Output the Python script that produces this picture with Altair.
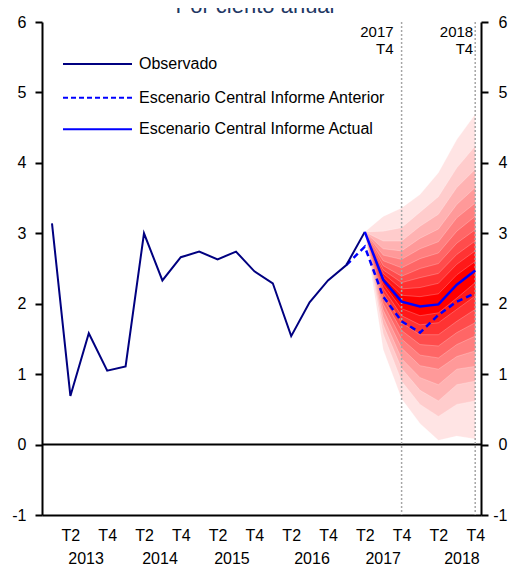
import altair as alt
import pandas as pd

# ---------------- data ----------------
# quarter index: 0 = 2013 T1 ... 23 = 2018 T4
obs_q = list(range(18))
observado = [3.14, 0.69, 1.58, 1.05, 1.11, 3.00, 2.33, 2.66, 2.74, 2.63,
             2.74, 2.46, 2.29, 1.54, 2.02, 2.33, 2.55, 3.02]

ant_q = [16, 17, 18, 19, 20, 21, 22, 23]
anterior = [2.55, 2.81, 2.10, 1.75, 1.59, 1.84, 2.03, 2.15]

act_q = [17, 18, 19, 20, 21, 22, 23]
actual = [3.02, 2.34, 2.03, 1.96, 1.99, 2.27, 2.47]

fan_q = [17, 18, 19, 20, 21, 22, 23]
# band limits, level 1 = innermost ... level 10 = outermost
fan_upper = [
    [3.02, 2.38, 2.12, 2.10, 2.14, 2.41, 2.60],
    [3.02, 2.43, 2.21, 2.23, 2.29, 2.56, 2.75],
    [3.02, 2.48, 2.30, 2.37, 2.43, 2.70, 2.89],
    [3.02, 2.54, 2.39, 2.50, 2.57, 2.86, 3.05],
    [3.02, 2.61, 2.51, 2.64, 2.72, 3.03, 3.24],
    [3.02, 2.69, 2.63, 2.78, 2.88, 3.22, 3.43],
    [3.02, 2.78, 2.75, 2.93, 3.06, 3.41, 3.65],
    [3.02, 2.89, 2.89, 3.10, 3.27, 3.65, 3.91],
    [3.02, 3.03, 3.08, 3.30, 3.52, 3.93, 4.24],
    [3.02, 3.24, 3.36, 3.55, 3.86, 4.33, 4.69],
]
fan_lower = [
    [3.02, 2.28, 1.93, 1.83, 1.87, 2.08, 2.30],
    [3.02, 2.22, 1.83, 1.70, 1.73, 1.92, 2.11],
    [3.02, 2.15, 1.73, 1.56, 1.56, 1.75, 1.92],
    [3.02, 2.08, 1.62, 1.42, 1.40, 1.59, 1.73],
    [3.02, 2.00, 1.50, 1.27, 1.23, 1.42, 1.54],
    [3.02, 1.91, 1.37, 1.12, 1.07, 1.25, 1.33],
    [3.02, 1.81, 1.22, 0.95, 0.85, 1.07, 1.11],
    [3.02, 1.70, 1.08, 0.77, 0.62, 0.85, 0.90],
    [3.02, 1.57, 0.90, 0.57, 0.40, 0.57, 0.62],
    [3.02, 1.35, 0.65, 0.30, 0.06, 0.12, 0.08],
]
fan_colors = ["#FF0000", "#FF1919", "#FF3333", "#FF4C4C", "#FF6666",
              "#FF7F7F", "#FF9999", "#FFB2B2", "#FFCCCC", "#FFE4E4"]

x_tick_q = [1, 3, 5, 7, 9, 11, 13, 15, 17, 19, 21, 23]
x_tick_labels = ["T2", "T4", "T2", "T4", "T2", "T4", "T2", "T4", "T2", "T4", "T2", "T4"]
year_labels = ["2013", "2014", "2015", "2016", "2017", "2018"]
year_pos = [1.85, 5.87, 9.78, 14.13, 18.0, 22.28]
y_ticks = [-1, 0, 1, 2, 3, 4, 5, 6]

vline_q = [19, 23]
vline_labels = ["2017\nT4", "2018\nT4"]

legend_labels = ["Observado", "Escenario Central Informe Anterior",
                 "Escenario Central Informe Actual"]

FONT = "Liberation Sans"
NAVY = "#000080"
BLUE = "#0000FF"

xscale = alt.Scale(domain=[-0.543, 23.315], nice=False, zero=False)
yscale = alt.Scale(domain=[-1, 6], nice=False, zero=False)
Y_LABEL_EXPR = "datum.value < 0 ? '-' + (-datum.value) : '' + datum.value"


def X(field="q"):
    return alt.X(f"{field}:Q", scale=xscale, axis=None)


def Y(field="v"):
    return alt.Y(f"{field}:Q", scale=yscale, axis=None)


layers = []

# fan bands, outermost first
for lvl in range(len(fan_upper) - 1, -1, -1):
    df = pd.DataFrame({"q": fan_q, "lo": fan_lower[lvl], "hi": fan_upper[lvl]})
    layers.append(
        alt.Chart(df).mark_area(color=fan_colors[lvl], stroke="white",
                                strokeWidth=0.4, strokeOpacity=0.6)
        .encode(x=X(), y=Y("lo"), y2="hi:Q")
    )

# zero line
zero_df = pd.DataFrame({"v": [0]})
layers.append(
    alt.Chart(zero_df).mark_rule(color="black", strokeWidth=2)
    .encode(y=Y("v"), x=alt.value(0), x2=alt.value(439))
)

# vertical dotted lines
vl_df = pd.DataFrame({"q": vline_q, "lab": vline_labels, "top": [6, 6], "bot": [-1, -1]})
layers.append(
    alt.Chart(vl_df).mark_rule(color="#A6A6A6", strokeWidth=1.5, strokeDash=[2, 2])
    .encode(x=X(), y=Y("top"), y2="bot:Q")
)
layers.append(
    alt.Chart(vl_df.iloc[[0]]).mark_text(align="right", baseline="top", dx=-8,
                                         fontSize=15, lineBreak="\n", lineHeight=16.5,
                                         font=FONT, color="black")
    .encode(x=X(), y=alt.value(3), text="lab:N")
)
layers.append(
    alt.Chart(vl_df.iloc[[1]]).mark_text(align="right", baseline="top", dx=-2,
                                         fontSize=15, lineBreak="\n", lineHeight=16.5,
                                         font=FONT, color="black")
    .encode(x=X(), y=alt.value(3), text="lab:N")
)

# lines
ant_df = pd.DataFrame({"q": ant_q, "v": anterior})
layers.append(
    alt.Chart(ant_df).mark_line(color=BLUE, strokeWidth=2.5, strokeDash=[6, 4])
    .encode(x=X(), y=Y())
)
obs_df = pd.DataFrame({"q": obs_q, "v": observado})
layers.append(
    alt.Chart(obs_df).mark_line(color=NAVY, strokeWidth=2)
    .encode(x=X(), y=Y())
)
act_df = pd.DataFrame({"q": act_q, "v": actual})
layers.append(
    alt.Chart(act_df).mark_line(color=BLUE, strokeWidth=2.5)
    .encode(x=X(), y=Y())
)

# axes: left y + bottom x, then right y
label_array = "[" + ",".join(f"'{t}'" for t in x_tick_labels) + "]"
axis_df = pd.DataFrame({"q": [0], "v": [0]})
layers.append(
    alt.Chart(axis_df).mark_point(opacity=0)
    .encode(
        x=alt.X("q:Q", scale=xscale,
                axis=alt.Axis(orient="bottom", values=x_tick_q, tickSize=0,
                              labelExpr=f"{label_array}[(datum.value - 1) / 2]",
                              labelPadding=12, title=None, grid=False,
                              domainColor="black", domainWidth=2)),
        y=alt.Y("v:Q", scale=yscale,
                axis=alt.Axis(orient="left", values=y_ticks, tickSize=7, tickWidth=2,
                              tickColor="black", labelPadding=9, title=None,
                              labelExpr=Y_LABEL_EXPR,
                              grid=False, domainColor="black", domainWidth=2)),
    )
)
layers.append(
    alt.Chart(axis_df).mark_point(opacity=0)
    .encode(
        x=X(),
        y=alt.Y("v:Q", scale=yscale,
                axis=alt.Axis(orient="right", values=y_ticks, tickSize=7, tickWidth=2,
                              tickColor="black", labelPadding=19, labelAlign="right",
                              title=None, labelExpr=Y_LABEL_EXPR,
                              grid=False, domainColor="black", domainWidth=2)),
    )
)

# year labels
yr_df = pd.DataFrame({"q": year_pos, "lab": year_labels})
layers.append(
    alt.Chart(yr_df).mark_text(fontSize=16, font=FONT, color="black", baseline="middle")
    .encode(x=X(), y=alt.value(537), text="lab:N")
)

# legend
leg_y = [42, 75.7, 107.3]
leg_dash = [[1, 0], [5, 3], [1, 0]]
leg_color = [NAVY, BLUE, BLUE]
for lab, yy, dash, col in zip(legend_labels, leg_y, leg_dash, leg_color):
    ldf = pd.DataFrame({"lab": [lab]})
    layers.append(
        alt.Chart(ldf).mark_rule(color=col, strokeWidth=2, strokeDash=dash)
        .encode(x=alt.value(21), x2=alt.value(90), y=alt.value(yy))
    )
    layers.append(
        alt.Chart(ldf).mark_text(align="left", baseline="middle", fontSize=16,
                                 font=FONT, color="black")
        .encode(x=alt.value(97), y=alt.value(yy), text="lab:N")
    )

# title, cut off at the top as in the original
title_df = pd.DataFrame({"t": ["Por ciento anual"]})
layers.append(
    alt.Chart(title_df).mark_text(align="center", baseline="alphabetic", fontSize=22,
                                  font=FONT, color="#1F3864")
    .encode(x=alt.value(213), y=alt.value(-9), text="t:N")
)

chart = (
    alt.layer(*layers)
    .properties(width=439, height=493,
                autosize=alt.AutoSizeParams(type="none"),
                padding={"left": 34, "top": 14, "right": 27, "bottom": 51})
    .resolve_axis(x="independent", y="independent")
    .configure_view(stroke=None)
    .configure_axis(labelFont=FONT, labelFontSize=16, labelColor="black")
)

chart.save("out.html", embed_options={"renderer": "svg", "actions": False})
